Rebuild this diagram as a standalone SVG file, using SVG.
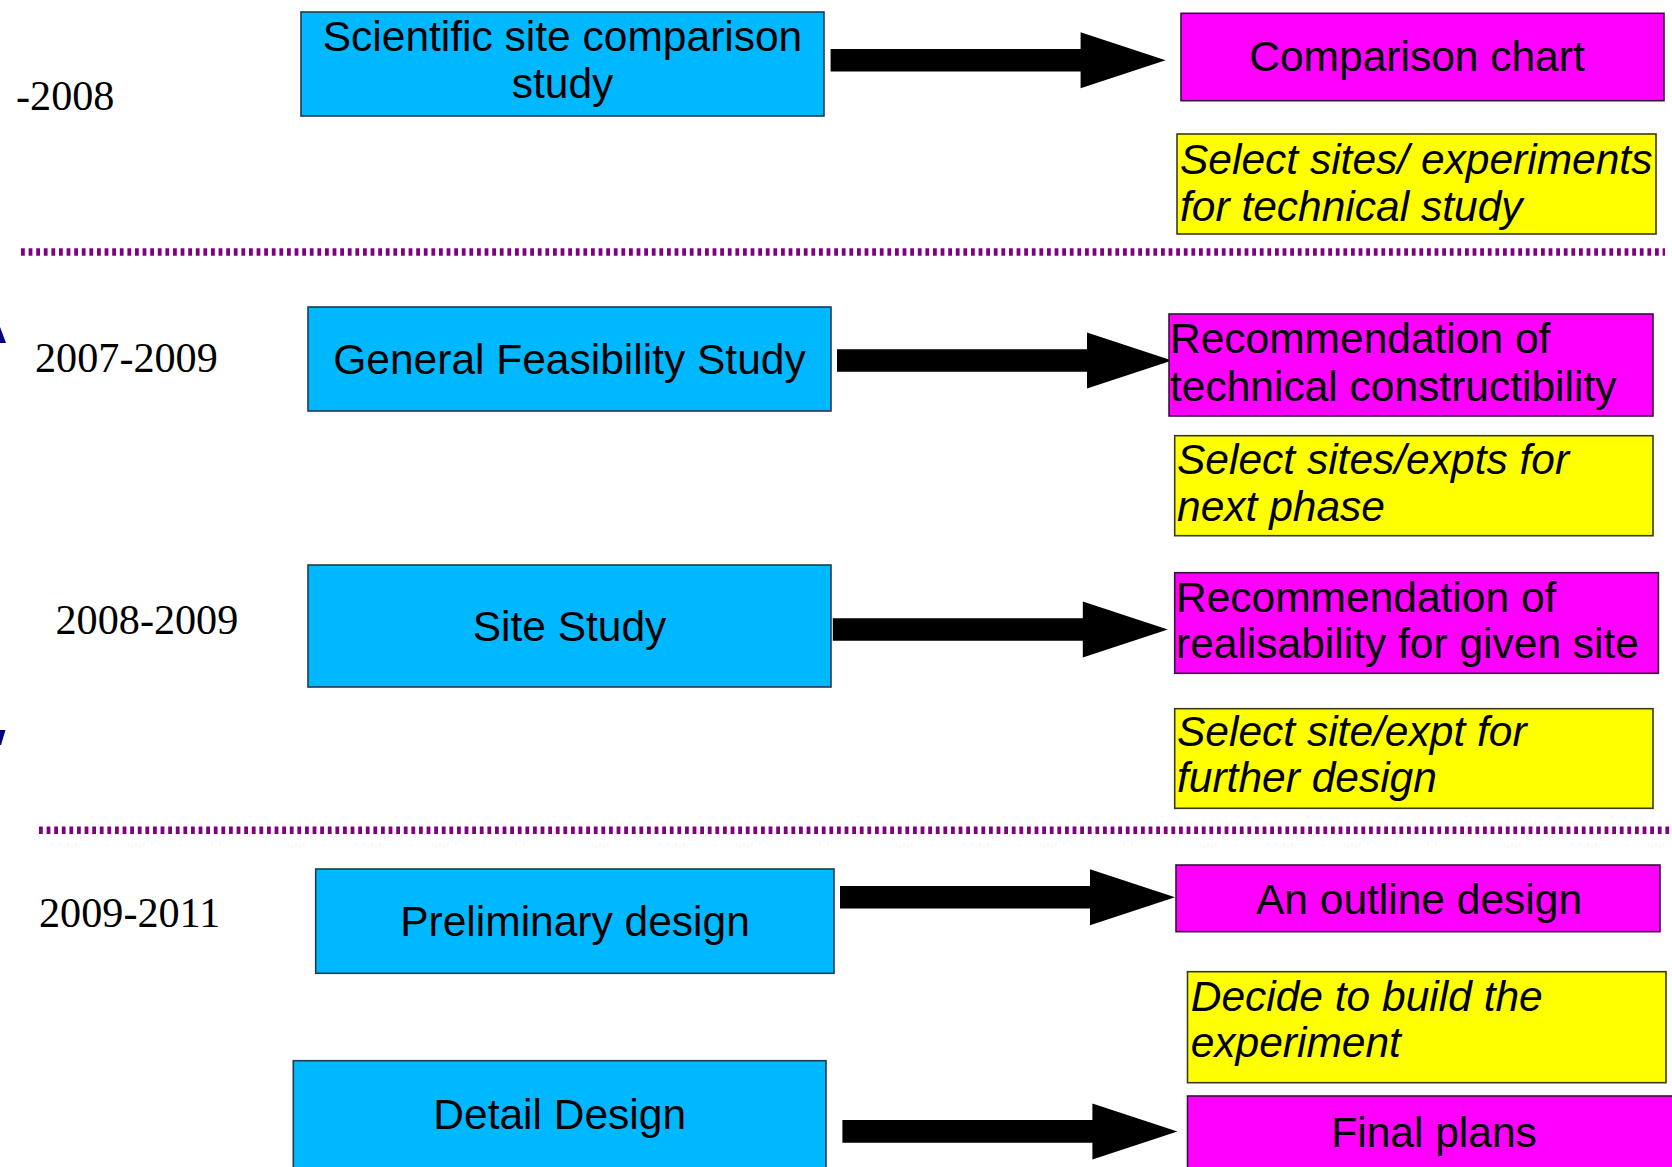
<svg xmlns="http://www.w3.org/2000/svg" xmlns:xlink="http://www.w3.org/1999/xlink" width="1672" height="1167" viewBox="0 0 1672 1167">
<style>
.t{font-family:"Liberation Sans",Arial,sans-serif;font-size:42.5px;fill:#000}
.i{font-style:italic}
.c{text-anchor:middle}
.d{font-family:"Liberation Serif","Times New Roman",serif;font-size:42.2px;fill:#000}
.blue{fill:#00b8ff;stroke:#1f3b4d;stroke-width:1.6}
.mag{fill:#ff00ff;stroke:#3a1040;stroke-width:1.6}
.yel{fill:#ffff00;stroke:#3a3a20;stroke-width:1.6}
.sep{stroke:#800080;stroke-width:7.4;stroke-dasharray:3.8 3.8;fill:none}
</style>
<defs>
<path id="arrow" d="M0,-11.3 H250 V-28 L335,0 L250,28 V11.3 H0 Z" fill="#000"/>
</defs>
<rect width="1672" height="1167" fill="#fff"/>

<g id="separators">
<line class="sep" x1="21" y1="252" x2="1665" y2="252"/>
<line class="sep" x1="39" y1="830.3" x2="1672" y2="830.3"/>
</g>

<g id="side-arrow-fragments" fill="#000080">
<polygon points="0,327 6,343 0,343"/>
<polygon points="0,730 5.5,730 1,745 0,745"/>
</g>

<g id="dates">
<text class="d" x="16" y="109.5">-2008</text>
<text class="d" x="35" y="371.5">2007-2009</text>
<text class="d" x="55.5" y="633.5">2008-2009</text>
<text class="d" x="39" y="926.5">2009-2011</text>
</g>

<g id="connectors">
<use xlink:href="#arrow" href="#arrow" x="830.6" y="60.3"/>
<use xlink:href="#arrow" href="#arrow" x="837" y="360.5"/>
<use xlink:href="#arrow" href="#arrow" x="832.8" y="629.5"/>
<use xlink:href="#arrow" href="#arrow" x="840" y="897.3"/>
<use xlink:href="#arrow" href="#arrow" x="842.4" y="1131.4"/>
</g>

<g id="n-scientific">
<rect class="blue" x="301" y="12" width="523" height="104"/>
<text class="t c" x="562.5" y="50.5">Scientific site comparison</text>
<text class="t c" x="562.5" y="97.5">study</text>
</g>
<g id="n-feasibility">
<rect class="blue" x="308" y="307" width="523" height="104"/>
<text class="t c" x="569.5" y="373.5">General Feasibility Study</text>
</g>
<g id="n-site">
<rect class="blue" x="308" y="565" width="523" height="122"/>
<text class="t c" x="569.5" y="640.5">Site Study</text>
</g>
<g id="n-preliminary">
<rect class="blue" x="315.7" y="869" width="518.3" height="104.3"/>
<text class="t c" x="575" y="935.5">Preliminary design</text>
</g>
<g id="n-detail">
<rect class="blue" x="293.3" y="1060.7" width="532.7" height="120"/>
<text class="t c" x="559.7" y="1128.8">Detail Design</text>
</g>

<g id="n-comparison-chart">
<rect class="mag" x="1181" y="13.3" width="483" height="87.4"/>
<text class="t c" x="1417" y="71.2">Comparison chart</text>
</g>
<g id="n-select-technical">
<rect class="yel" x="1177" y="134" width="479" height="100"/>
<text class="t i" x="1180" y="173.5">Select sites/ experiments</text>
<text class="t i" x="1180" y="220.5">for technical study</text>
</g>
<g id="n-rec-constructibility">
<rect class="mag" x="1169" y="314" width="484" height="102"/>
<text class="t" x="1170" y="353.2">Recommendation of</text>
<text class="t" x="1170" y="400.5">technical constructibility</text>
</g>
<g id="n-select-next">
<rect class="yel" x="1174.7" y="435.7" width="478.3" height="100"/>
<text class="t i" x="1177" y="473.8">Select sites/expts for</text>
<text class="t i" x="1177" y="520.5">next phase</text>
</g>
<g id="n-rec-realisability">
<rect class="mag" x="1174.7" y="572.7" width="483.7" height="100.6"/>
<text class="t" x="1176" y="611.5">Recommendation of</text>
<text class="t" x="1176" y="658.2">realisability for given site</text>
</g>
<g id="n-select-further">
<rect class="yel" x="1174.7" y="708.7" width="478.3" height="99.6"/>
<text class="t i" x="1177" y="745.5">Select site/expt for</text>
<text class="t i" x="1177" y="792.2">further design</text>
</g>
<g id="n-outline">
<rect class="mag" x="1176" y="865" width="484" height="66.7"/>
<text class="t c" x="1419" y="913.5">An outline design</text>
</g>
<g id="n-decide">
<rect class="yel" x="1187.5" y="971.7" width="478.5" height="111"/>
<text class="t i" x="1190.7" y="1010.5">Decide to build the</text>
<text class="t i" x="1190.7" y="1057.2">experiment</text>
</g>
<g id="n-final">
<rect class="mag" x="1187.5" y="1096" width="500" height="90"/>
<text class="t c" x="1434" y="1147.2">Final plans</text>
</g>
</svg>
